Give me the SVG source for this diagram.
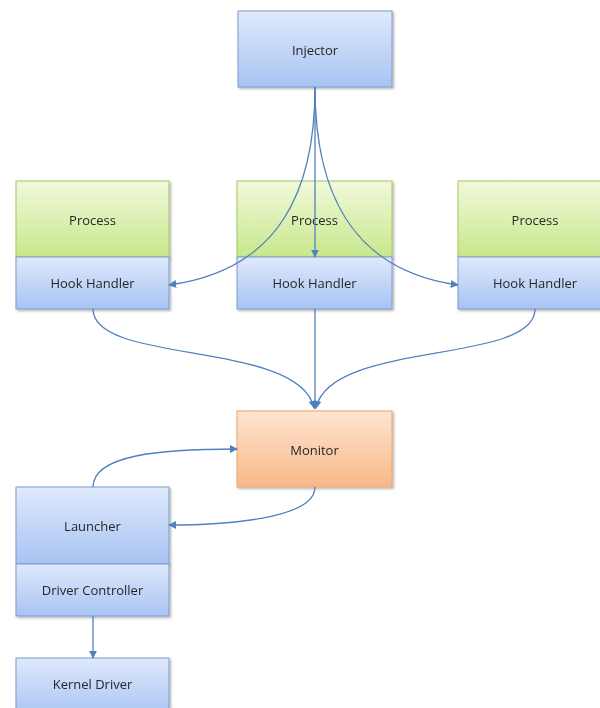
<svg xmlns="http://www.w3.org/2000/svg" width="600" height="708" viewBox="0 0 600 708">
<style>
.lbl{font-family:"Open Sans","Liberation Sans",sans-serif;font-size:13px;fill:#262626;text-anchor:middle;dominant-baseline:central}
.blue{fill:url(#gb);stroke:#7e9ccc;stroke-width:1}
.green{fill:url(#gg);stroke:#a7c36a;stroke-width:1}
.orange{fill:url(#go);stroke:#e9a66e;stroke-width:1}
.conn path{fill:none;stroke:#4f81bd;stroke-width:1.3;marker-end:url(#ah)}
</style>
<defs>
<linearGradient id="gb" x1="0" y1="0" x2="0" y2="1"><stop offset="0" stop-color="#dfe9fb"/><stop offset="1" stop-color="#a8c3f3"/></linearGradient>
<linearGradient id="gg" x1="0" y1="0" x2="0" y2="1"><stop offset="0" stop-color="#f1f9db"/><stop offset="1" stop-color="#c8e78c"/></linearGradient>
<linearGradient id="go" x1="0" y1="0" x2="0" y2="1"><stop offset="0" stop-color="#fde5d2"/><stop offset="1" stop-color="#f8b888"/></linearGradient>
<filter id="sh" x="-10%" y="-10%" width="130%" height="130%"><feDropShadow dx="1.5" dy="1.5" stdDeviation="1.2" flood-color="#000" flood-opacity="0.3"/></filter>
<marker id="ah" viewBox="0 0 10 10" refX="9" refY="5" markerWidth="8" markerHeight="8" markerUnits="userSpaceOnUse" orient="auto"><path d="M0,0 L10,5 L0,10 z" fill="#4f81bd"/></marker>
</defs>
<rect width="600" height="708" fill="#fff"/>
<g id="injector" filter="url(#sh)"><rect class="blue" x="238" y="11" width="154" height="76"/><text class="lbl" x="315" y="50">Injector</text></g>
<g id="process1" filter="url(#sh)"><rect class="green" x="16" y="181" width="153" height="76"/><text class="lbl" x="92.500" y="220">Process</text></g>
<g id="hook1" filter="url(#sh)"><rect class="blue" x="16" y="257" width="153" height="52"/><text class="lbl" x="92.500" y="283">Hook Handler</text></g>
<g id="process2" filter="url(#sh)"><rect class="green" x="237" y="181" width="155" height="76"/><text class="lbl" x="314.500" y="220">Process</text></g>
<g id="hook2" filter="url(#sh)"><rect class="blue" x="237" y="257" width="155" height="52"/><text class="lbl" x="314.500" y="283">Hook Handler</text></g>
<g id="process3" filter="url(#sh)"><rect class="green" x="458" y="181" width="154" height="76"/><text class="lbl" x="535" y="220">Process</text></g>
<g id="hook3" filter="url(#sh)"><rect class="blue" x="458" y="257" width="154" height="52"/><text class="lbl" x="535" y="283">Hook Handler</text></g>
<g id="monitor" filter="url(#sh)"><rect class="orange" x="237" y="411" width="155" height="76"/><text class="lbl" x="314.500" y="450">Monitor</text></g>
<g id="launcher" filter="url(#sh)"><rect class="blue" x="16" y="487" width="153" height="77"/><text class="lbl" x="92.500" y="526">Launcher</text></g>
<g id="driverctl" filter="url(#sh)"><rect class="blue" x="16" y="564" width="153" height="52"/><text class="lbl" x="92.500" y="590">Driver Controller</text></g>
<g id="kernel" filter="url(#sh)"><rect class="blue" x="16" y="658" width="153" height="60"/><text class="lbl" x="92.500" y="684">Kernel Driver</text></g>
<g id="connectors" class="conn">
<path d="M315,87 L315,257"/>
<path d="M315,87 C315,190 280,270 169,285"/>
<path d="M315,87 C315,190 350,270 458,285"/>
<path d="M93,309 C93,365 300,340 314,408"/>
<path d="M315,309 L315,409"/>
<path d="M535,309 C535,365 330,340 316,408"/>
<path d="M315,487 C315,520 220,525 169,525"/>
<path d="M93,487 C93,455 160,449 237,449"/>
<path d="M93,616 L93,658"/>
</g>
</svg>
